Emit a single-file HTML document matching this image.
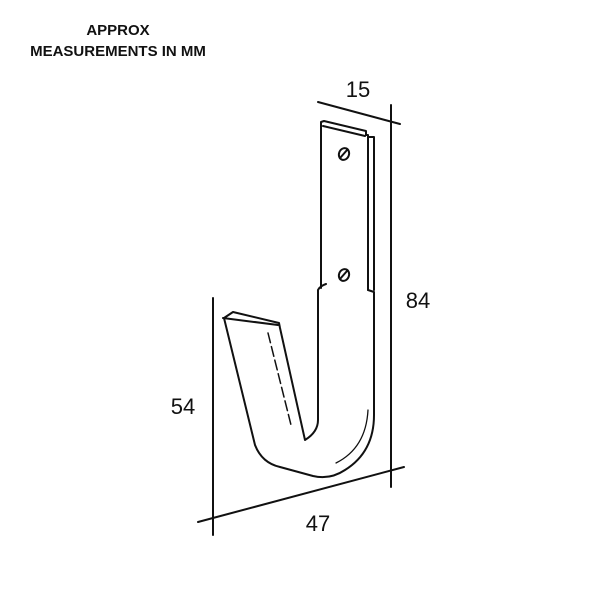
<!DOCTYPE html>
<html><head><style>
html,body{margin:0;padding:0;background:#fff;}
body{width:600px;height:600px;position:relative;overflow:hidden;}
.t{position:absolute;font-family:"Liberation Sans",sans-serif;font-weight:bold;font-size:15px;color:#111;white-space:nowrap;text-align:center;}
</style></head><body>
<div class="t" style="left:18px;width:200px;top:22px;">APPROX</div>
<div class="t" style="left:18px;width:200px;top:43px;">MEASUREMENTS IN MM</div>
<svg width="600" height="600" style="position:absolute;left:0;top:0" xmlns="http://www.w3.org/2000/svg">
<g stroke="#111" fill="none" stroke-width="2" stroke-linejoin="round" stroke-linecap="round">
<line x1="318" y1="102" x2="400" y2="124"/>
<line x1="391" y1="105" x2="391" y2="487"/>
<line x1="213" y1="298" x2="213" y2="535"/>
<line x1="198" y1="522" x2="404" y2="467"/>
<path d="M321,288 L321,122 L324,121 L366,131 L366,135"/>
<line x1="323" y1="126" x2="365" y2="136"/>
<path d="M366,135 L368,135 L368,290"/>
<path d="M368,137 L374,137 L374,290"/>
<ellipse cx="344" cy="154" rx="5" ry="6" transform="rotate(20 344 154)"/>
<line x1="340" y1="158" x2="347" y2="150"/>
<ellipse cx="344" cy="275" rx="5" ry="6" transform="rotate(20 344 275)"/>
<line x1="340" y1="279" x2="347" y2="271"/>
<path d="M318,290 Q320,286 326,284 M318,290 L318,420 Q318,432 305,440 L280,328 L279,323 L233,312 L224,318 L255,445 Q262,463 280,467 L313,476 Q330,480 345,470 Q374,452 374,415 L374,292 L368,290"/>
<path d="M223,318 L278,325"/>
<path d="M268,333 L291,425" stroke-width="1.5" stroke-dasharray="10 4"/>
<path d="M336,463 Q366,448 368,410" stroke-width="1.3"/>
</g>
<g font-family="Liberation Sans, sans-serif" font-size="22" fill="#111" text-anchor="middle">
<text x="358" y="97">15</text>
<text x="418" y="308">84</text>
<text x="183" y="414">54</text>
<text x="318" y="531">47</text>
</g>
</svg>
</body></html>
